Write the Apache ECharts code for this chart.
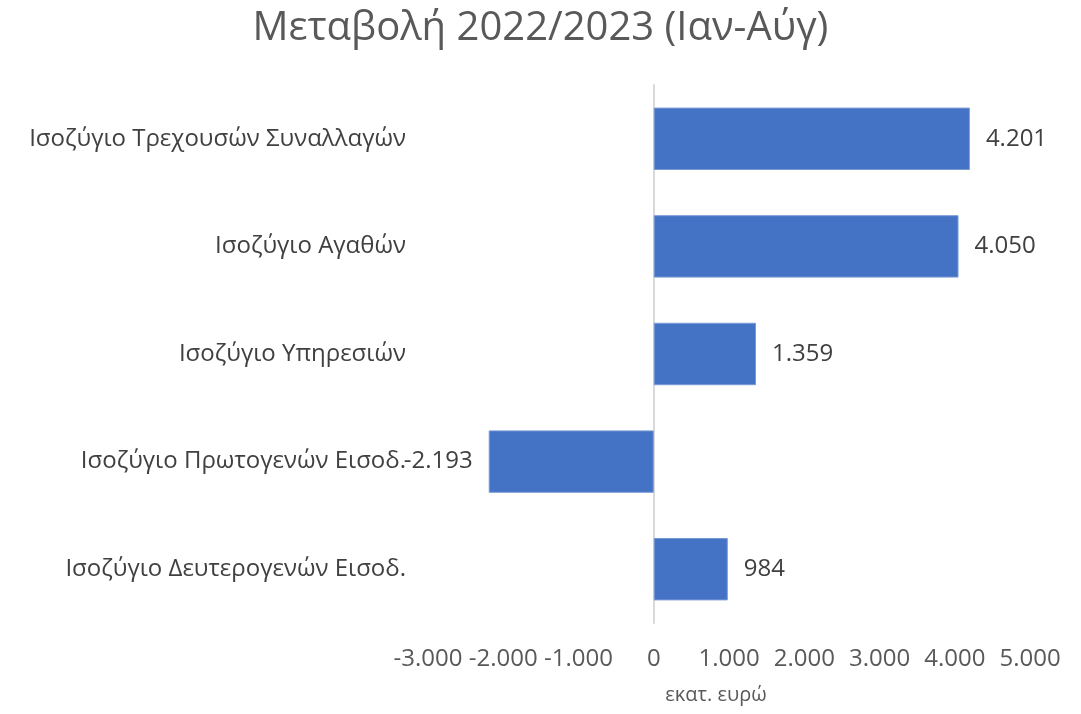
<!DOCTYPE html>
<html>
<head>
<meta charset="utf-8">
<script src="https://cdn.jsdelivr.net/npm/echarts@6/dist/echarts.min.js"></script>
<style>
  html, body { margin: 0; padding: 0; background: #fff; }
  #chart { width: 1081px; height: 714px; }
</style>
</head>
<body>
<div id="chart"></div>
<script>
// categories top to bottom
const categories = [
  "Ισοζύγιο Τρεχουσών Συναλλαγών",
  "Ισοζύγιο Αγαθών",
  "Ισοζύγιο Υπηρεσιών",
  "Ισοζύγιο Πρωτογενών Εισοδ.",
  "Ισοζύγιο Δευτερογενών Εισοδ."
];
const values = [4201, 4050, 1359, -2193, 984];

const fontFamily = "'Open Sans', 'Noto Sans', sans-serif";

// 4201 -> "4.201"
function fmt(v) {
  const s = String(Math.abs(v)).replace(/\B(?=(\d{3})+(?!\d))/g, ".");
  return (v < 0 ? "-" : "") + s;
}

const chart = echarts.init(document.getElementById("chart"));
chart.setOption({
  animation: false,
  title: {
    text: "Μεταβολή 2022/2023 (Ιαν-Αύγ)",
    left: "center",
    top: 4,
    textStyle: { fontFamily: fontFamily, fontSize: 40, fontWeight: "normal", color: "#595959" }
  },
  grid: { left: 428, right: 51, top: 85, bottom: 91 },
  xAxis: {
    type: "value",
    min: -3000,
    max: 5000,
    interval: 1000,
    name: "εκατ. ευρώ",
    nameLocation: "middle",
    nameGap: 62,
    nameTextStyle: { fontFamily: fontFamily, fontSize: 20, color: "#595959", padding: [0, 26, 0, 0] },
    axisLine: { show: false },
    axisTick: { show: false },
    splitLine: { show: false },
    axisLabel: {
      margin: 24,
      fontFamily: fontFamily,
      fontSize: 24,
      color: "#595959",
      formatter: fmt
    }
  },
  yAxis: {
    type: "category",
    data: categories,
    inverse: true,
    axisLine: { onZero: true, lineStyle: { color: "#d9d9d9", width: 2 } },
    axisTick: { show: false },
    axisLabel: { show: false }
  },
  series: [{
    type: "bar",
    data: values,
    barCategoryGap: "42%",
    itemStyle: { color: "#4472C4", borderColor: "#7a9ad6", borderWidth: 1 },
    label: {
      show: true,
      position: "right",
      distance: 16,
      fontFamily: fontFamily,
      fontSize: 24,
      color: "#404040",
      formatter: p => fmt(p.value)
    }
  }]
});

// category labels sit at the left edge of the plot (Excel "low" position),
// negative value label goes left of its bar
chart.setOption({
  graphic: categories.map(c => {
    const pt = chart.convertToPixel({ gridIndex: 0 }, [-3000, c]);
    return {
      type: "text",
      x: pt[0] - 22,
      y: pt[1],
      style: {
        text: c,
        align: "right",
        verticalAlign: "middle",
        font: "24px " + fontFamily,
        fill: "#404040"
      }
    };
  }),
  series: [{
    data: values.map(v => v < 0
      ? { value: v, label: { position: "left", distance: 16 } }
      : v)
  }]
});
</script>
</body>
</html>
